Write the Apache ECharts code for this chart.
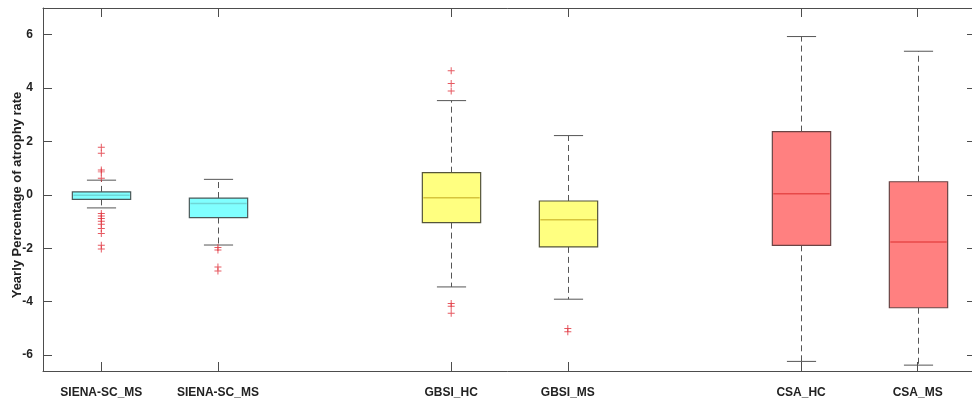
<!DOCTYPE html>
<html>
<head>
<meta charset="utf-8">
<script src="https://cdn.jsdelivr.net/npm/echarts@6/dist/echarts.min.js"></script>
<style>
html,body{margin:0;padding:0;background:#fff;}
#chart{width:972px;height:407px;}
</style>
</head>
<body>
<div id="chart"></div>
<script>
// ---- data ----
const categories = ['SIENA-SC_MS', 'SIENA-SC_MS', '', 'GBSI_HC', 'GBSI_MS', '', 'CSA_HC', 'CSA_MS'];
const boxPositions = [0, 1, 3, 4, 6, 7];
const whiskerLow  = [-0.49, -1.88, -3.45, -3.91, -6.24, -6.38];
const q1          = [-0.17, -0.85, -1.04, -1.95, -1.89, -4.23];
const median      = [-0.02, -0.32, -0.11, -0.93, 0.04, -1.77];
const q3          = [0.11, -0.12, 0.83, -0.23, 2.37, 0.49];
const whiskerHigh = [0.55, 0.58, 3.53, 2.22, 5.93, 5.38];
const outlierX = [0,0,0,0,0,0,0,0,0,0,0,0,0,0, 1,1,1,1, 3,3,3,3,3,3, 4,4];
const outlierY = [1.78,1.56,0.93,0.86,0.62,-0.70,-0.79,-0.89,-0.99,-1.10,-1.26,-1.45,-1.89,-2.03,
                  -1.97,-2.07,-2.70,-2.85,
                  4.65,4.17,3.89,-4.07,-4.17,-4.44,
                  -5.01,-5.13];
const yTicks = [-6, -4, -2, 0, 2, 4, 6];
const yName = 'Yearly Percentage of atrophy rate';

// ---- styles ----
const fillColors   = ['#80ffff', '#80ffff', '#ffff80', '#ffff80', '#ff8080', '#ff8080'];
const medianColors = ['#6fd6d6', '#6fd6d6', '#d6c43c', '#d6c43c', '#e84848', '#e84848'];
const edgeColors   = ['#4a5a5a', '#4a5a5a', '#55553a', '#55553a', '#6a4444', '#6a4444'];
const axisColor = '#4d4d4d';
const font = '"Liberation Sans", Arial, sans-serif';

const boxData = boxPositions.map((x, i) => [x, whiskerLow[i], q1[i], median[i], q3[i], whiskerHigh[i], i]);
const outlierData = outlierX.map((x, i) => [x, outlierY[i]]);

const chart = echarts.init(document.getElementById('chart'), null, {renderer: 'canvas'});

const tickFilter = (idx, val) => val !== '';

chart.setOption({
  backgroundColor: '#ffffff',
  animation: false,
  grid: {left: 43, right: -4, top: 8, bottom: 36, containLabel: false, outerBoundsMode: 'none'},
  xAxis: [{
    type: 'category',
    data: categories,
    position: 'bottom',
    axisLine: {show: true, onZero: false, lineStyle: {color: axisColor, width: 1}},
    axisTick: {show: true, inside: true, length: 9, alignWithLabel: true, interval: tickFilter,
               lineStyle: {color: axisColor}},
    axisLabel: {interval: 0, margin: 16, color: '#222', fontSize: 12, fontWeight: 'bold', fontFamily: font},
    splitLine: {show: false}
  }, {
    type: 'category',
    data: categories,
    position: 'top',
    axisLine: {show: true, onZero: false, lineStyle: {color: axisColor, width: 1}},
    axisTick: {show: true, inside: true, length: 9, alignWithLabel: true, interval: tickFilter,
               lineStyle: {color: axisColor}},
    axisLabel: {show: false},
    splitLine: {show: false}
  }],
  yAxis: [{
    type: 'value',
    min: -6.6,
    max: 7,
    position: 'left',
    name: yName,
    nameLocation: 'middle',
    nameGap: 19,
    nameMoveOverlap: false,
    nameTextStyle: {color: '#222', fontSize: 13, fontWeight: 'bold', fontFamily: font, padding: [0, 11, 0, 0]},
    axisLine: {show: true, onZero: false, lineStyle: {color: axisColor, width: 1}},
    axisTick: {show: true, inside: true, length: 9, customValues: yTicks, lineStyle: {color: axisColor}},
    axisLabel: {customValues: yTicks, margin: 10, color: '#222', fontSize: 12, fontWeight: 'bold', fontFamily: font,
                formatter: v => String(v)},
    splitLine: {show: false}
  }, {
    type: 'value',
    min: -6.6,
    max: 7,
    position: 'right',
    axisLine: {show: false},
    axisTick: {show: true, inside: true, length: 9, customValues: yTicks, lineStyle: {color: axisColor}},
    axisLabel: {show: false},
    splitLine: {show: false}
  }],
  series: [{
    type: 'custom',
    xAxisIndex: 0,
    yAxisIndex: 0,
    data: boxData,
    encode: {x: 0, y: [1, 2, 3, 4, 5]},
    renderItem: function (params, api) {
      const x = api.value(0);
      const gi = api.value(6);
      const band = api.size([1, 0])[0];
      const half = band * 0.25;
      const capHalf = band * 0.125;
      const pLo = api.coord([x, api.value(1)]);
      const pQ1 = api.coord([x, api.value(2)]);
      const pMed = api.coord([x, api.value(3)]);
      const pQ3 = api.coord([x, api.value(4)]);
      const pHi = api.coord([x, api.value(5)]);
      const cx = Math.round(pMed[0]) + 0.5;
      const whiskerStyle = {stroke: '#555', lineWidth: 1, lineDash: [6, 4]};
      const capStyle = {stroke: '#555', lineWidth: 1};
      return {
        type: 'group',
        children: [
          {type: 'line', shape: {x1: cx, y1: pQ3[1], x2: cx, y2: pHi[1]}, style: whiskerStyle},
          {type: 'line', shape: {x1: cx, y1: pQ1[1], x2: cx, y2: pLo[1]}, style: whiskerStyle},
          {type: 'line', shape: {x1: cx - capHalf, y1: pHi[1], x2: cx + capHalf, y2: pHi[1]}, style: capStyle},
          {type: 'line', shape: {x1: cx - capHalf, y1: pLo[1], x2: cx + capHalf, y2: pLo[1]}, style: capStyle},
          {type: 'rect', shape: {x: cx - half, y: pQ3[1], width: half * 2, height: pQ1[1] - pQ3[1]},
           style: {fill: fillColors[gi], stroke: edgeColors[gi], lineWidth: 1.2}},
          {type: 'line', shape: {x1: cx - half + 1, y1: pMed[1], x2: cx + half - 1, y2: pMed[1]},
           style: {stroke: medianColors[gi], lineWidth: 1.5}}
        ]
      };
    }
  }, {
    type: 'scatter',
    xAxisIndex: 0,
    yAxisIndex: 0,
    data: outlierData,
    symbol: 'path://M4.3,0H5.7V4.3H10V5.7H5.7V10H4.3V5.7H0V4.3H4.3Z',
    symbolSize: 7,
    itemStyle: {color: '#e0303a'},
    z: 5
  }]
});
</script>
</body>
</html>
